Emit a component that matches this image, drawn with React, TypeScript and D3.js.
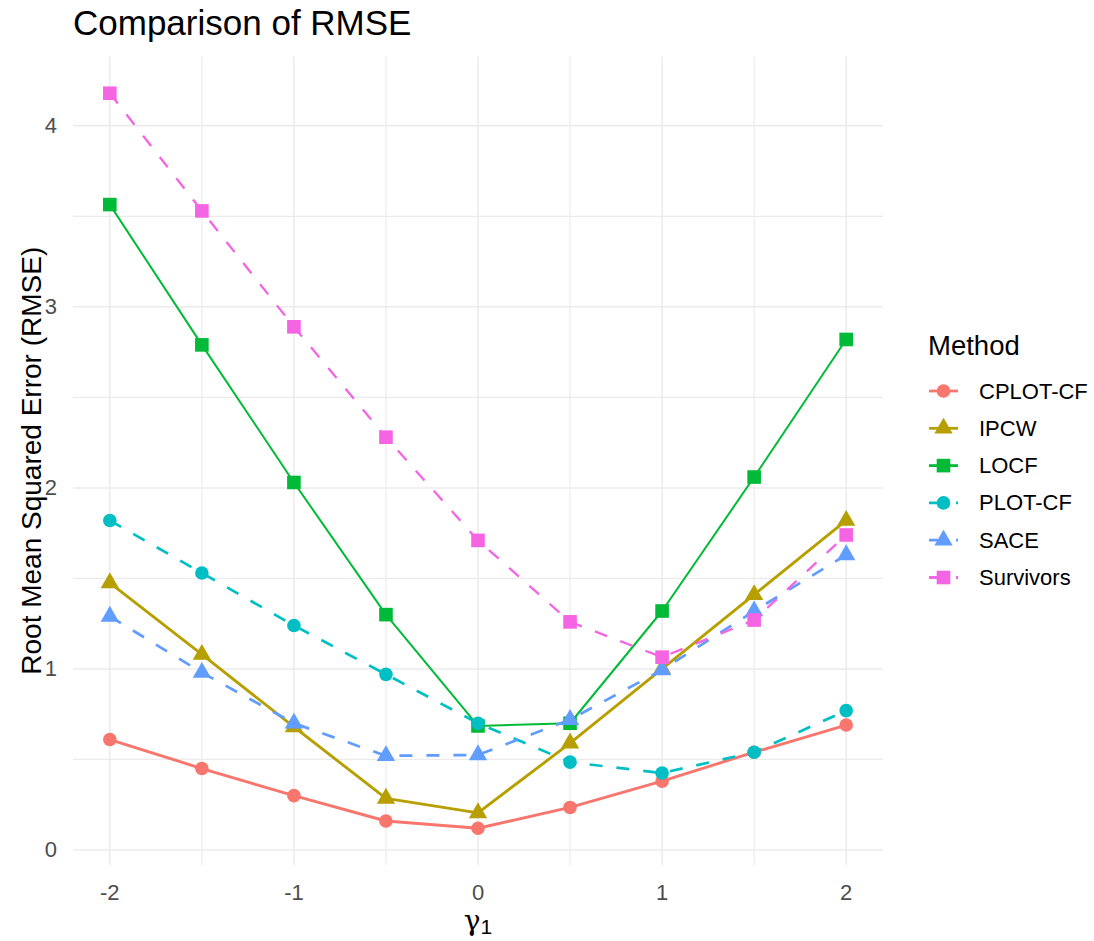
import React from "react";
import * as d3 from "d3";

const gammaVals = [-2, -1.5, -1, -0.5, 0, 0.5, 1, 1.5, 2];
const methods = ["CPLOT-CF", "IPCW", "LOCF", "PLOT-CF", "SACE", "Survivors"];
const cplotcf = [0.61, 0.45, 0.3, 0.16, 0.12, 0.235, 0.38, 0.54, 0.69];
const ipcw = [1.475, 1.08, 0.68, 0.285, 0.205, 0.59, 1.0, 1.41, 1.82];
const locf = [3.565, 2.79, 2.03, 1.3, 0.685, 0.7, 1.32, 2.06, 2.82];
const plotcf = [1.82, 1.53, 1.24, 0.97, 0.7, 0.485, 0.425, 0.54, 0.77];
const sace = [1.29, 0.98, 0.7, 0.52, 0.525, 0.72, 0.995, 1.32, 1.63];
const survivors = [4.18, 3.53, 2.89, 2.28, 1.71, 1.26, 1.065, 1.27, 1.74];
const seriesValues = [cplotcf, ipcw, locf, plotcf, sace, survivors];
const colors = ["#F8766D", "#B79F00", "#00BA38", "#00BFC4", "#619CFF", "#F564E3"];
const shapes = ["circle", "triangle", "square", "circle", "triangle", "square"];
const dashed = [false, false, false, true, true, true];
const widths = [2.9, 2.9, 2.0, 2.7, 2.7, 2.3];
const xMajor = [-2, -1, 0, 1, 2];
const xMinor = [-1.5, -0.5, 0.5, 1.5];
const yMajor = [0, 1, 2, 3, 4];
const yMinor = [0.5, 1.5, 2.5, 3.5];

const FONT = "'Liberation Sans', Arial, sans-serif";

function Marker({ shape, cx, cy, color }: { shape: string; cx: number; cy: number; color: string }) {
  const r = 6.8;
  if (shape === "circle") return <circle cx={cx} cy={cy} r={r} fill={color} />;
  if (shape === "square")
    return <rect x={cx - r} y={cy - r} width={2 * r} height={2 * r} fill={color} />;
  const top = r * 1.5551;
  const half = r * 1.3468;
  const bot = r * 0.7776;
  return (
    <polygon
      points={`${cx},${cy - top} ${cx + half},${cy + bot} ${cx - half},${cy + bot}`}
      fill={color}
    />
  );
}

export default function App() {
  const x = d3.scaleLinear().domain([-2.2, 2.2]).range([73, 883]);
  const y = d3.scaleLinear().domain([-0.083, 4.383]).range([865, 56.5]);
  const [x0, x1] = x.range();
  const [yb, yt] = y.range();
  const line = d3
    .line<number>()
    .x((_, i) => x(gammaVals[i]))
    .y((d) => y(d));

  const legendY0 = 391;
  const legendStep = 37.3;

  return (
    <svg
      width={1094}
      height={941}
      style={{ position: "absolute", left: 0, top: 0, background: "#fff" }}
      fontFamily={FONT}
    >
      <rect x={0} y={0} width={1094} height={941} fill="#fff" />
      {yMinor.map((v) => (
        <line key={"ym" + v} x1={x0} x2={x1} y1={y(v)} y2={y(v)} stroke="#EBEBEB" strokeWidth={1.2} />
      ))}
      {xMinor.map((v) => (
        <line key={"xm" + v} x1={x(v)} x2={x(v)} y1={yb} y2={yt} stroke="#EBEBEB" strokeWidth={1.2} />
      ))}
      {yMajor.map((v) => (
        <line key={"yM" + v} x1={x0} x2={x1} y1={y(v)} y2={y(v)} stroke="#EBEBEB" strokeWidth={1.5} />
      ))}
      {xMajor.map((v) => (
        <line key={"xM" + v} x1={x(v)} x2={x(v)} y1={yb} y2={yt} stroke="#EBEBEB" strokeWidth={1.5} />
      ))}
      {seriesValues.map((vals, si) => (
        <path
          key={"l" + si}
          d={line(vals) || ""}
          fill="none"
          stroke={colors[si]}
          strokeWidth={widths[si]}
          strokeDasharray={dashed[si] ? "13 14" : undefined}
          strokeLinejoin="round"
        />
      ))}
      {seriesValues.map((vals, si) =>
        vals.map((v, i) => (
          <Marker key={"p" + si + "-" + i} shape={shapes[si]} cx={x(gammaVals[i])} cy={y(v)} color={colors[si]} />
        ))
      )}
      {yMajor.map((v) => (
        <text key={"yt" + v} x={57} y={y(v)} textAnchor="end" dominantBaseline="central" fontSize={22} fill="#4D4D4D">
          {v}
        </text>
      ))}
      {xMajor.map((v) => (
        <text key={"xt" + v} x={x(v)} y={899.5} textAnchor="middle" fontSize={22} fill="#4D4D4D">
          {v}
        </text>
      ))}
      <text x={(x0 + x1) / 2} y={930} textAnchor="middle" fontSize={28} fill="#000">
        <tspan fontFamily="'DejaVu Serif', serif" fontStyle="normal">γ</tspan>
        <tspan fontSize={21} dy={4}>1</tspan>
      </text>
      <text
        transform={`translate(31, ${(yb + yt) / 2}) rotate(-90)`}
        textAnchor="middle"
        dominantBaseline="central"
        fontSize={28}
        fill="#000"
      >
        Root Mean Squared Error (RMSE)
      </text>
      <text x={73} y={35} fontSize={35} fill="#000">
        Comparison of RMSE
      </text>
      <text x={928} y={355} fontSize={27.5} fill="#000">
        Method
      </text>
      {methods.map((m, i) => {
        const cy = legendY0 + i * legendStep;
        return (
          <g key={"lg" + m}>
            <line
              x1={929}
              x2={958}
              y1={cy}
              y2={cy}
              stroke={colors[i]}
              strokeWidth={2.8}
              strokeDasharray={dashed[i] ? "13 14" : undefined}
            />
            <Marker shape={shapes[i]} cx={943.5} cy={cy} color={colors[i]} />
            <text x={979} y={cy} dominantBaseline="central" fontSize={22} fill="#000">
              {m}
            </text>
          </g>
        );
      })}
    </svg>
  );
}
